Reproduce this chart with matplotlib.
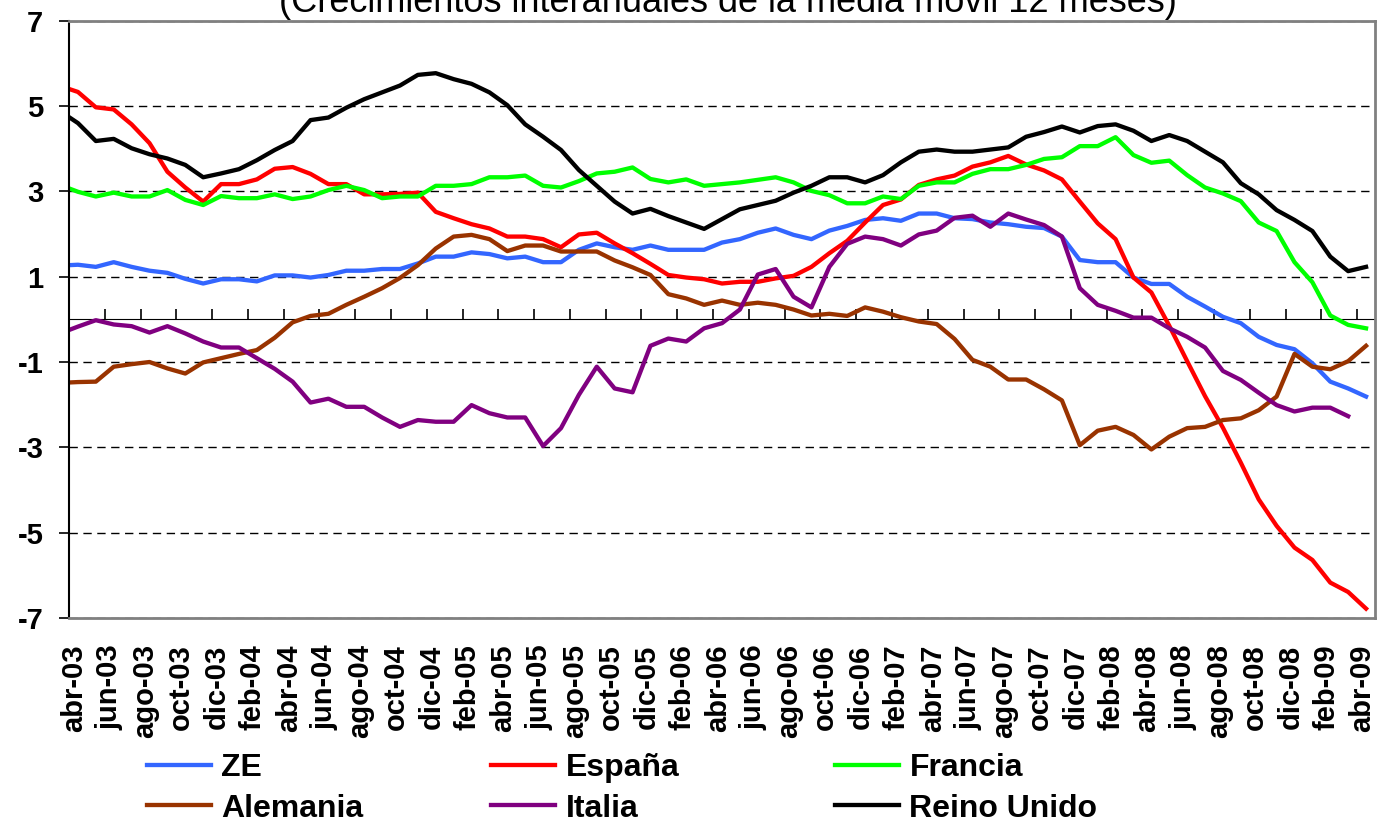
import numpy as np
import matplotlib.pyplot as plt
import matplotlib.transforms as mtransforms

plt.rcParams['font.family'] = ['Liberation Sans', 'DejaVu Sans']
plt.rcParams['axes.unicode_minus'] = False

# meses en español; la serie empieza en mar-03, que sólo asoma en el borde izquierdo
meses = ['ene', 'feb', 'mar', 'abr', 'may', 'jun', 'jul', 'ago', 'sep', 'oct', 'nov', 'dic']
fechas = ['{}-{:02d}'.format(meses[(2 + k) % 12], 3 + (2 + k) // 12) for k in range(74)]
x = np.arange(-1, 73)

ze = [1.26, 1.28, 1.23, 1.34, 1.23, 1.14, 1.09, 0.95, 0.84, 0.94, 0.94, 0.89, 1.03, 1.03, 0.98,
      1.04, 1.14, 1.14, 1.18, 1.18, 1.31, 1.47, 1.47, 1.57, 1.53, 1.43, 1.47, 1.34, 1.34, 1.63,
      1.78, 1.69, 1.63, 1.73, 1.63, 1.63, 1.63, 1.80, 1.88, 2.03, 2.13, 1.98, 1.88, 2.08, 2.19,
      2.33, 2.37, 2.31, 2.48, 2.48, 2.37, 2.35, 2.27, 2.23, 2.17, 2.14, 1.94, 1.39, 1.34, 1.34,
      0.98, 0.83, 0.83, 0.53, 0.30, 0.06, -0.09, -0.41, -0.60, -0.70, -1.03, -1.46, -1.62, -1.81]
espana = [5.47, 5.33, 4.97, 4.92, 4.57, 4.13, 3.46, 3.09, 2.76, 3.17, 3.17, 3.28, 3.53, 3.57, 3.41,
          3.17, 3.17, 2.93, 2.93, 2.94, 2.97, 2.52, 2.37, 2.23, 2.13, 1.94, 1.94, 1.88, 1.69, 1.99,
          2.03, 1.78, 1.55, 1.30, 1.04, 0.98, 0.94, 0.84, 0.88, 0.88, 0.96, 1.02, 1.23, 1.55, 1.84,
          2.27, 2.68, 2.81, 3.15, 3.28, 3.37, 3.58, 3.68, 3.83, 3.63, 3.49, 3.28, 2.76, 2.25, 1.88,
          0.98, 0.63, -0.15, -0.98, -1.80, -2.54, -3.36, -4.22, -4.84, -5.35, -5.64, -6.17, -6.39, -6.78]
francia = [3.15, 2.99, 2.88, 2.97, 2.88, 2.88, 3.03, 2.80, 2.68, 2.89, 2.84, 2.84, 2.93, 2.82, 2.88,
           3.03, 3.13, 3.03, 2.84, 2.88, 2.88, 3.13, 3.13, 3.17, 3.33, 3.33, 3.37, 3.13, 3.09, 3.24,
           3.42, 3.46, 3.56, 3.29, 3.21, 3.28, 3.13, 3.17, 3.21, 3.27, 3.33, 3.21, 3.01, 2.91, 2.72,
           2.72, 2.88, 2.82, 3.13, 3.21, 3.21, 3.41, 3.52, 3.52, 3.62, 3.76, 3.80, 4.06, 4.06, 4.27,
           3.85, 3.67, 3.72, 3.38, 3.09, 2.95, 2.77, 2.27, 2.07, 1.34, 0.87, 0.09, -0.13, -0.21]
alemania = [-1.49, -1.47, -1.46, -1.11, -1.05, -1.00, -1.15, -1.27, -1.01, -0.91, -0.81, -0.72, -0.43, -0.07, 0.08,
            0.13, 0.34, 0.53, 0.73, 0.97, 1.27, 1.66, 1.94, 1.98, 1.88, 1.60, 1.73, 1.73, 1.59, 1.59,
            1.59, 1.38, 1.22, 1.04, 0.59, 0.49, 0.34, 0.44, 0.34, 0.39, 0.34, 0.23, 0.09, 0.13, 0.08,
            0.28, 0.18, 0.05, -0.05, -0.11, -0.46, -0.95, -1.11, -1.41, -1.41, -1.64, -1.90, -2.95, -2.61, -2.52,
            -2.71, -3.05, -2.75, -2.55, -2.52, -2.36, -2.32, -2.13, -1.81, -0.81, -1.11, -1.17, -0.98, -0.62]
italia = [-0.33, -0.17, -0.02, -0.12, -0.16, -0.31, -0.16, -0.33, -0.52, -0.66, -0.66, -0.91, -1.16, -1.46, -1.95,
          -1.86, -2.05, -2.05, -2.30, -2.52, -2.36, -2.40, -2.40, -2.01, -2.20, -2.30, -2.30, -2.97, -2.55, -1.77,
          -1.11, -1.62, -1.71, -0.62, -0.45, -0.52, -0.21, -0.09, 0.23, 1.05, 1.18, 0.53, 0.28, 1.23, 1.77,
          1.94, 1.88, 1.73, 1.99, 2.08, 2.38, 2.43, 2.17, 2.48, 2.34, 2.21, 1.94, 0.73, 0.34, 0.20,
          0.04, 0.04, -0.21, -0.41, -0.66, -1.21, -1.42, -1.72, -2.01, -2.16, -2.07, -2.07, -2.27, np.nan]
reino_unido = [4.88, 4.60, 4.18, 4.23, 4.01, 3.87, 3.77, 3.62, 3.33, 3.42, 3.52, 3.73, 3.97, 4.18, 4.67,
               4.73, 4.96, 5.16, 5.32, 5.48, 5.73, 5.77, 5.63, 5.52, 5.32, 5.02, 4.57, 4.28, 3.97, 3.50,
               3.13, 2.76, 2.48, 2.59, 2.42, 2.27, 2.12, 2.35, 2.58, 2.68, 2.78, 2.97, 3.13, 3.33, 3.33,
               3.21, 3.38, 3.68, 3.93, 3.98, 3.93, 3.93, 3.98, 4.03, 4.28, 4.39, 4.52, 4.38, 4.53, 4.57,
               4.42, 4.18, 4.32, 4.18, 3.93, 3.68, 3.19, 2.93, 2.56, 2.33, 2.07, 1.47, 1.13, 1.23]

W, H = 1377, 823
fig = plt.figure(figsize=(W / 100, H / 100), dpi=100)
ax = fig.add_axes([69 / W, 1 - 618 / H, (1375 - 69) / W, (618 - 20.7) / H])

lw = 3.1
l_ze, = ax.plot(x, ze, color='#3366ff', lw=lw, label='ZE')
l_es, = ax.plot(x, espana, color='#ff0000', lw=lw, label='España')
l_fr, = ax.plot(x, francia, color='#00ff00', lw=lw, label='Francia')
l_al, = ax.plot(x, alemania, color='#993300', lw=lw, label='Alemania')
l_it, = ax.plot(x, italia, color='#800080', lw=lw, label='Italia')
l_ru, = ax.plot(x, reino_unido, color='black', lw=lw, label='Reino Unido')

ax.set_xlim(-0.5, 72.5)
ax.set_ylim(-7, 7)

# eje y
ax.set_yticks(range(-7, 8, 2))
ax.tick_params(axis='y', direction='out', length=7.5, width=1.2, pad=11, labelsize=21)
for t in ax.get_yticklabels():
    t.set_fontweight('bold')
ax.yaxis.grid(True, linestyle=(0, (6, 4)), color='black', lw=1)
ax.set_axisbelow(True)

# etiquetas del eje x abajo, sin marcas
ax.set_xticks(x[1::2])
ax.set_xticklabels(fechas[1::2], rotation=90, fontsize=21, fontweight='bold')
ax.tick_params(axis='x', length=0, pad=19)
desplaza = mtransforms.ScaledTranslation(-4 / 100, 0, fig.dpi_scale_trans)
for t in ax.get_xticklabels():
    t.set_transform(t.get_transform() + desplaza)

for s in ['top', 'right', 'bottom']:
    ax.spines[s].set_color('#808080')
    ax.spines[s].set_linewidth(2)
ax.spines['left'].set_linewidth(1.5)

# eje de categorías cruzando en 0, marcas cada 2 meses
sec = ax.secondary_xaxis(0.5)
sec.set_xticks(np.arange(1.5, 72, 2))
sec.set_xticklabels([])
sec.tick_params(direction='out', length=7.5, width=1.2)
sec.spines['bottom'].set_linewidth(1.5)

# título (cortado en la parte superior)
fig.text(727.5 / W, 1 - 12 / H, '(Crecimientos interanuales de la media móvil 12 meses)',
         ha='center', va='baseline', fontsize=26)

# leyenda en tres columnas
columnas = [([l_ze, l_al], 147), ([l_es, l_it], 491), ([l_fr, l_ru], 835)]
for handles, px in columnas:
    fig.legend(handles=handles, loc='center left', bbox_to_anchor=(px / W, 1 - 788.5 / H),
               frameon=False, borderpad=0, borderaxespad=0, handlelength=2.0,
               handletextpad=0.33, labelspacing=0.32, prop={'weight': 'bold', 'size': 23})

fig.savefig('out.png', dpi=100)
